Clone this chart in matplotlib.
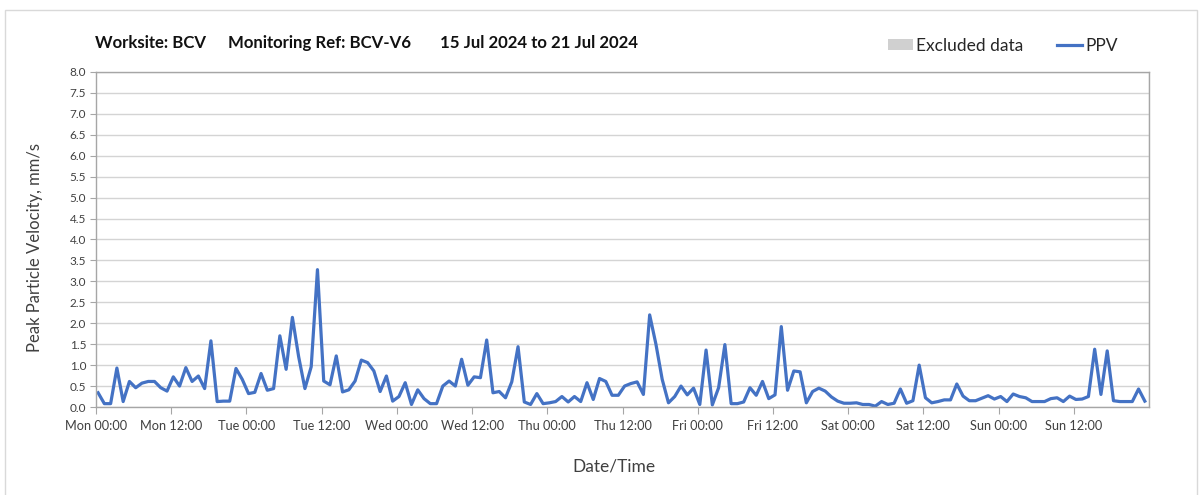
import numpy as np
import pandas as pd
import matplotlib
matplotlib.use("Agg")
import matplotlib.pyplot as plt
import matplotlib.dates as mdates
from matplotlib.patches import Rectangle, Patch
from matplotlib.lines import Line2D

# ---------------- data ----------------
title_parts = ["Worksite: BCV", "Monitoring Ref: BCV-V6", "15 Jul 2024 to 21 Jul 2024"]
start_time = "2024-07-15 00:20"
ppv = [
    0.34, 0.08, 0.08, 0.93, 0.13, 0.61, 0.46, 0.57, 0.61, 0.61, 0.46, 0.38,
    0.72, 0.50, 0.94, 0.61, 0.74, 0.44, 1.58, 0.13, 0.14, 0.14, 0.92, 0.66,
    0.32, 0.35, 0.80, 0.40, 0.44, 1.70, 0.90, 2.14, 1.20, 0.44, 0.96, 3.28,
    0.62, 0.53, 1.22, 0.36, 0.41, 0.62, 1.12, 1.06, 0.86, 0.37, 0.74, 0.14,
    0.25, 0.58, 0.06, 0.41, 0.20, 0.08, 0.08, 0.50, 0.62, 0.50, 1.14, 0.52,
    0.72, 0.70, 1.60, 0.34, 0.37, 0.22, 0.60, 1.44, 0.12, 0.06, 0.32, 0.08,
    0.10, 0.13, 0.25, 0.12, 0.25, 0.13, 0.58, 0.18, 0.68, 0.61, 0.28, 0.28,
    0.50, 0.56, 0.60, 0.30, 2.20, 1.50, 0.66, 0.10, 0.25, 0.50, 0.29, 0.45,
    0.06, 1.36, 0.05, 0.46, 1.49, 0.08, 0.08, 0.12, 0.46, 0.28, 0.61, 0.20,
    0.29, 1.92, 0.40, 0.86, 0.84, 0.10, 0.37, 0.45, 0.38, 0.24, 0.14, 0.09,
    0.09, 0.10, 0.06, 0.06, 0.02, 0.13, 0.06, 0.09, 0.43, 0.09, 0.15, 1.00,
    0.22, 0.10, 0.13, 0.17, 0.17, 0.55, 0.26, 0.15, 0.15, 0.21, 0.27, 0.19,
    0.25, 0.13, 0.31, 0.25, 0.22, 0.13, 0.13, 0.13, 0.20, 0.22, 0.13, 0.26,
    0.18, 0.19, 0.25, 1.38, 0.30, 1.34, 0.15, 0.13, 0.13, 0.13, 0.43, 0.14,
]
times = pd.date_range(start_time, periods=len(ppv), freq="h")
x_start, x_end = pd.Timestamp("2024-07-15 00:00"), pd.Timestamp("2024-07-22 00:00")
x_ticks = pd.date_range(x_start, periods=14, freq="12h")
x_tick_labels = ["Mon 00:00", "Mon 12:00", "Tue 00:00", "Tue 12:00", "Wed 00:00",
                 "Wed 12:00", "Thu 00:00", "Thu 12:00", "Fri 00:00", "Fri 12:00",
                 "Sat 00:00", "Sat 12:00", "Sun 00:00", "Sun 12:00"]
y_ticks = np.arange(0, 8.01, 0.5)

# ---------------- style ----------------
plt.rcParams["font.family"] = ["Lato", "DejaVu Sans"]
W, H = 1203, 495
fig = plt.figure(figsize=(W / 100, H / 100), dpi=100)
fig.patches.append(Rectangle((5 / W, -0.1), (1197 - 5) / W, 1.1 - 10 / H,
                             transform=fig.transFigure, fill=False,
                             edgecolor="#d9d9d9", lw=1.0))

L, R, T, B = 96, 1149, 72, 407
ax = fig.add_axes([L / W, 1 - B / H, (R - L) / W, (B - T) / H])

line_color = "#4472C4"
ax.plot(times, ppv, color=line_color, lw=2.3, solid_joinstyle="round")

ax.set_xlim(x_start, x_end)
ax.set_ylim(0, 8)
ax.set_yticks(y_ticks)
ax.set_yticklabels([f"{v:.1f}" for v in y_ticks])

ax.set_xticks(x_ticks)
ax.set_xticklabels(x_tick_labels)
ax.xaxis.set_minor_locator(mdates.DayLocator())

ax.grid(True, axis="y", color="#d4d4d4", lw=1.0)
ax.grid(True, axis="x", which="minor", color="#dedede", lw=1.0)
ax.set_axisbelow(True)

for s in ax.spines.values():
    s.set_color("#a6a6a6")
    s.set_linewidth(1.0)

ax.tick_params(axis="x", which="major", length=5, color="#a6a6a6",
               labelsize=9.2, labelcolor="#404040", pad=4)
ax.tick_params(axis="x", which="minor", length=0)
ax.tick_params(axis="y", length=4, color="#a6a6a6", labelsize=8.5,
               labelcolor="#404040", pad=3)

fig.text(35 / W, 1 - 248 / H, "Peak Particle Velocity, mm/s", rotation=90,
         ha="center", va="center", fontsize=12, color="#404040")
fig.text(614 / W, 1 - 466 / H, "Date/Time", ha="center", va="center",
         fontsize=12.5, color="#404040")

for part, px in zip(title_parts, [95, 228, 440]):
    fig.text(px / W, 1 - 43 / H, part, ha="left", va="center",
             fontsize=12.1, fontweight="bold", color="#111111")

handles = [Patch(facecolor="#d0d0d0", edgecolor="none", label="Excluded data"),
           Line2D([], [], color=line_color, lw=2.3, label="PPV")]
fig.legend(handles=handles, loc="center left", bbox_to_anchor=(872 / W, 1 - 46 / H),
           ncol=2, frameon=False, fontsize=12.5, handlelength=1.45, handleheight=0.6,
           handletextpad=0.2, columnspacing=1.9, labelcolor="#262626")

fig.savefig("out.png", dpi=100)
